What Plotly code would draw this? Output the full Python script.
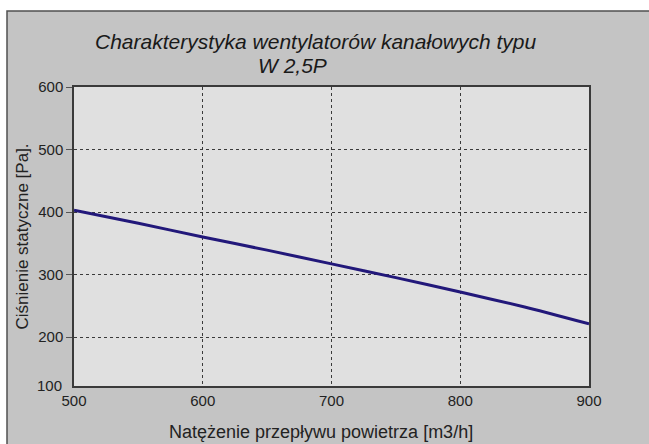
import plotly.graph_objects as go

# Data
airflow = [500, 550, 600, 650, 700, 750, 800, 850, 900]          # m3/h
static_pressure = [403, 382, 360, 339, 317, 295, 272, 248, 221]  # Pa

x_ticks = [500, 600, 700, 800, 900]
y_ticks = [200, 300, 400, 500, 600]
y_bottom_label = "100"

title_line1 = "Charakterystyka wentylatorów kanałowych typu"
title_line2 = "W 2,5P"
x_title = "Natężenie przepływu powietrza [m3/h]"
y_title = "Ciśnienie statyczne [Pa]."

FONT = "Liberation Sans, Arial, sans-serif"

fig = go.Figure()
fig.add_trace(go.Scatter(
    x=airflow, y=static_pressure, mode="lines",
    line=dict(color="#22187a", width=3, shape="spline", smoothing=0.6),
    hoverinfo="x+y", showlegend=False,
))

W, H = 649, 444
L, R, T, B = 74, 60, 87, 58
pw, ph = W - L - R, H - T - B

def px_x(p):
    return (p - L) / pw

def px_y(p):
    return (H - B - p) / ph

shapes = [
    # grey outer panel
    dict(type="rect", xref="paper", yref="paper", layer="below",
         x0=px_x(7), x1=px_x(W + 10), y0=px_y(H + 10), y1=px_y(11),
         fillcolor="#c4c4c4", line=dict(color="#505050", width=1.5)),
    # plot area background
    dict(type="rect", xref="paper", yref="paper", layer="below",
         x0=0, x1=1, y0=0, y1=1, fillcolor="#e0e0e0", line=dict(width=0)),
]

annotations = [
    dict(text=title_line1, xref="paper", yref="paper", x=px_x(316), y=px_y(41),
         xanchor="center", yanchor="middle", showarrow=False,
         font=dict(family=FONT, size=21, color="#1a1a1a", style="italic")),
    dict(text=title_line2, xref="paper", yref="paper", x=px_x(292), y=px_y(65),
         xanchor="center", yanchor="middle", showarrow=False,
         font=dict(family=FONT, size=21, color="#1a1a1a", style="italic")),
    dict(text=y_bottom_label, xref="paper", yref="paper", x=0, y=0,
         xanchor="right", yanchor="middle", xshift=-10, yshift=1, showarrow=False,
         font=dict(family=FONT, size=15, color="#222")),
    # x-axis title (slightly left of plot centre, as in the reference)
    dict(text=x_title, xref="paper", yref="paper", x=px_x(321), y=px_y(432),
         xanchor="center", yanchor="middle", showarrow=False,
         font=dict(family=FONT, size=18, color="#222")),
]

fig.update_layout(
    width=W, height=H,
    margin=dict(l=L, r=R, t=T, b=B, autoexpand=False),
    paper_bgcolor="white", plot_bgcolor="rgba(0,0,0,0)",
    font=dict(family=FONT, size=15, color="#222"),
    shapes=shapes, annotations=annotations,
    showlegend=False,
)

fig.update_xaxes(
    range=[500, 900], tickvals=x_ticks, ticks="",
    showgrid=True, gridcolor="#3a3a3a", gridwidth=1, griddash="dot",
    showline=True, mirror=True, linecolor="#3a3a3a", linewidth=1.5,
    zeroline=False, tickfont=dict(size=15),
    automargin=False,
)
fig.update_yaxes(
    range=[121.6, 600], tickvals=y_ticks, ticks="outside", ticklen=6,
    tickcolor="#555", tickwidth=1,
    showgrid=True, gridcolor="#3a3a3a", gridwidth=1, griddash="dot",
    showline=True, mirror=True, linecolor="#3a3a3a", linewidth=1.5,
    zeroline=False, tickfont=dict(size=15),
    title=dict(text=y_title, font=dict(size=17), standoff=5),
    automargin=False,
)

fig.write_html(
    "out.html",
    config={"displayModeBar": False},
    post_script="document.body.style.margin='0';document.body.style.padding='0';",
)
